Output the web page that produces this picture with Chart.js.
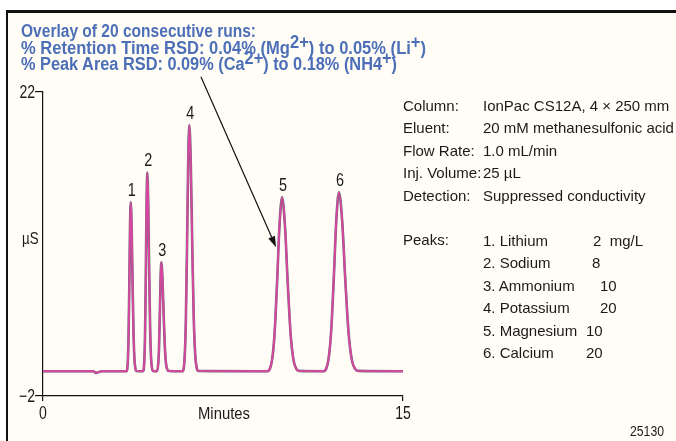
<!DOCTYPE html>
<html>
<head>
<meta charset="utf-8">
<script src="https://cdn.jsdelivr.net/npm/chart.js@4.4.1/dist/chart.umd.min.js"></script>
<style>
html,body{margin:0;padding:0;background:#fff;width:676px;height:441px;overflow:hidden}
body{position:relative;font-family:"Liberation Sans",Arial,sans-serif;color:#1a1a1a}
#frame{position:absolute;left:6px;top:10px;width:680px;height:440px;background:#fffdf6;border-top:3px solid #111;border-left:2.5px solid #111;box-sizing:border-box}
#chart{position:absolute;left:0;top:0}
.t{position:absolute;white-space:pre;transform-origin:0 0}
.title{left:20.7px;font-weight:bold;font-size:18px;line-height:16.5px;color:#4d6fb8}
.title .s{position:relative;top:-6px}
.panel{font-size:15px;line-height:22.4px}
</style>
</head>
<body>
<div id="frame"></div>
<canvas id="chart" width="676" height="441"></canvas>
<div class="t title" style="top:23.4px" data-w="235">Overlay of 20 consecutive runs:</div>
<div class="t title" style="top:39.9px" data-w="405">% Retention Time RSD: 0.04% (Mg<span class="s">2+</span>) to 0.05% (Li<span class="s">+</span>)</div>
<div class="t title" style="top:56.4px" data-w="376">% Peak Area RSD: 0.09% (Ca<span class="s">2+</span>) to 0.18% (NH4<span class="s">+</span>)</div>
<div id="labels" class="t panel" style="left:403px;top:95px"></div>
<div id="values" class="t panel" style="left:483px;top:95px"></div>
<div id="peakNames" class="t panel" style="left:483px;top:230px"></div>
<div id="peakConc"></div>
<div class="t" style="left:22px;top:229px;font-size:17px" data-w="16.5">µS</div>
<div class="t" style="left:198px;top:404px;font-size:17px" data-w="52">Minutes</div>
<div class="t" style="left:630px;top:423px;font-size:14px" data-w="34">25130</div>
<script>
// trace (minutes, µS)
const traceTime = [
0, 2.1, 2.2, 2.3, 2.45,
3.475, 3.535, 3.565, 3.595, 3.625, 3.655, 3.695, 3.735, 3.775, 3.815, 3.855, 3.895,
4.165, 4.225, 4.255, 4.285, 4.315, 4.345, 4.385, 4.425, 4.465, 4.505, 4.545, 4.585,
4.735, 4.8, 4.833, 4.865, 4.898, 4.93, 4.98, 5.03, 5.08, 5.13, 5.18, 5.23,
5.81, 5.905, 5.953, 6.0, 6.048, 6.096, 6.158, 6.221, 6.283, 6.346, 6.408, 6.47,
9.33, 9.54, 9.645, 9.75, 9.855, 9.96, 10.08, 10.2, 10.32, 10.44, 10.56, 10.68,
11.67, 11.89, 12.0, 12.11, 12.22, 12.33, 12.465, 12.6, 12.735, 12.87, 13.005, 13.14,
15
]
const traceSignal = [
-0.05, -0.05, -0.18, -0.12, -0.05,
-0.05, 0.78, 2.75, 6.6, 11.2, 13.3, 11.2, 6.6, 2.75, 0.78, 0.12, -0.02,
-0.05, 0.93, 3.25, 7.8, 13.15, 15.65, 13.15, 7.8, 3.25, 0.93, 0.15, -0.03,
-0.05, 0.49, 1.76, 4.25, 7.18, 8.55, 7.18, 4.25, 1.76, 0.49, 0.09, -0.03,
-0.05, 1.17, 4.03, 9.68, 16.31, 19.4, 16.31, 9.68, 4.03, 1.17, 0.2, -0.02,
-0.05, 0.81, 2.83, 6.82, 11.5, 13.68, 11.5, 6.82, 2.83, 0.81, 0.13, -0.02,
-0.05, 0.83, 2.92, 7.02, 11.83, 14.08, 11.83, 7.02, 2.92, 0.83, 0.14, -0.02,
-0.05
]

const peakNumbers = ["1","2","3","4","5","6"]
const peakTimes = [3.655, 4.345, 4.93, 6.096, 9.96, 12.33]
const peakHeights = [13.3, 15.65, 8.55, 19.4, 13.68, 14.08]

const xTicks = [0, 15]
const yTicks = [-2, 22]

// arrow from the RSD note down to peak 5 (minutes, µS)
const arrowFrom = [6.58, 23.2]
const arrowTo = [9.71, 9.75]

const condLabels = ["Column:","Eluent:","Flow Rate:","Inj. Volume:","Detection:","","Peaks:"]
const condValues = ["IonPac CS12A, 4 × 250 mm","20 mM methanesulfonic acid","1.0 mL/min","25 µL","Suppressed conductivity"]
const peakNames = ["1. Lithium","2. Sodium","3. Ammonium","4. Potassium","5. Magnesium","6. Calcium"]
const peakConc = ["2  mg/L","8","10","20","10","20"]

document.getElementById("labels").textContent = condLabels.join("\n")
document.getElementById("values").textContent = condValues.join("\n")
document.getElementById("peakNames").textContent = peakNames.join("\n")

const concLeft = [593, 592, 600, 600, 586, 586]
let concHtml = ""
for(let i=0;i<peakConc.length;i++){
concHtml += `<div class="t panel" style="left:${concLeft[i]}px;top:${230+i*22.4}px">${peakConc[i]}</div>`
}
document.getElementById("peakConc").innerHTML = concHtml

// squeeze text to the condensed widths of the original
document.querySelectorAll("[data-w]").forEach(el=>{
const w = el.getBoundingClientRect().width
el.style.transform = `scaleX(${parseFloat(el.dataset.w)/w})`
})

const font = '"Liberation Sans",Arial,sans-serif'

const points = traceTime.map((t,i)=>({x:t,y:traceSignal[i]}))

function narrowText(c, txt, x, y, sx){
c.save()
c.translate(x,y)
c.scale(sx,1)
c.fillText(txt,0,0)
c.restore()
}

const tickFmt = v => v<0 ? "\u2212"+Math.abs(v) : String(v)

const extras = {
id:"extras",
afterDraw(chart){
const c = chart.ctx
const xs = chart.scales.x
const ys = chart.scales.y
c.save()
c.fillStyle = "#1a1a1a"
c.font = "18px " + font
c.textAlign = "center"
c.textBaseline = "alphabetic"
for(let i=0;i<peakNumbers.length;i++){
narrowText(c, peakNumbers[i], xs.getPixelForValue(peakTimes[i])+1, ys.getPixelForValue(peakHeights[i])-6, 0.8)
}
// tick labels, condensed like the original type
c.textBaseline = "middle"
for(const v of xTicks){
narrowText(c, tickFmt(v), xs.getPixelForValue(v), ys.bottom+18, 0.78)
}
c.textAlign = "right"
for(const v of yTicks){
narrowText(c, tickFmt(v), xs.left-8, ys.getPixelForValue(v)+1, 0.78)
}
const x0 = xs.getPixelForValue(arrowFrom[0]), y0 = ys.getPixelForValue(arrowFrom[1])
const x1 = xs.getPixelForValue(arrowTo[0]), y1 = ys.getPixelForValue(arrowTo[1])
const a = Math.atan2(y1-y0, x1-x0)
const len = 11, hw = 3.6
const bx = x1 - len*Math.cos(a), by = y1 - len*Math.sin(a)
c.strokeStyle = "#111"
c.lineWidth = 1.2
c.beginPath()
c.moveTo(x0,y0)
c.lineTo(bx,by)
c.stroke()
c.fillStyle = "#111"
c.beginPath()
c.moveTo(x1,y1)
c.lineTo(bx - hw*Math.sin(a), by + hw*Math.cos(a))
c.lineTo(bx + hw*Math.sin(a), by - hw*Math.cos(a))
c.closePath()
c.fill()
c.restore()
}
}

new Chart(document.getElementById("chart"), {
type:"line",
data:{
datasets:[
{data:points, borderColor:"#d8479f", borderWidth:1.9, pointRadius:0, cubicInterpolationMode:"monotone", order:0},
{data:points, borderColor:"#6e6878", borderWidth:2.6, pointRadius:0, cubicInterpolationMode:"monotone", order:1}
]
},
options:{
responsive:false,
animation:false,
layout:{padding:{left:8, top:92, right:273, bottom:15}},
plugins:{legend:{display:false}, tooltip:{enabled:false}},
scales:{
x:{
type:"linear", min:0, max:15,
afterBuildTicks:s=>{s.ticks = xTicks.map(v=>({value:v}))},
afterFit:s=>{s.height = 30},
grid:{drawOnChartArea:false, tickLength:5, color:"#111", lineWidth:1.2},
border:{color:"#111", width:1.2},
ticks:{display:false}
},
y:{
min:-2, max:22,
afterBuildTicks:s=>{s.ticks = yTicks.map(v=>({value:v}))},
afterFit:s=>{s.width = 35},
grid:{drawOnChartArea:false, tickLength:8, color:"#111", lineWidth:1.2},
border:{color:"#111", width:1.2},
ticks:{display:false}
}
}
},
plugins:[extras]
})
</script>
</body>
</html>
